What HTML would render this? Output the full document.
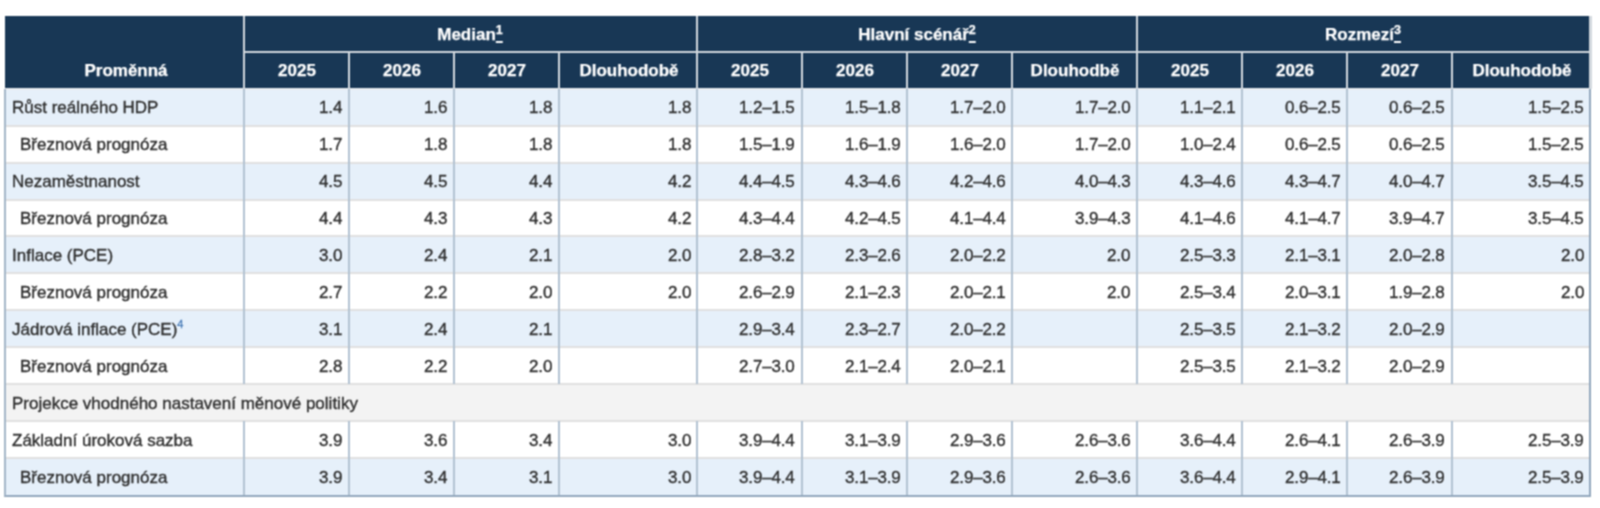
<!DOCTYPE html>
<html><head><meta charset="utf-8"><style>
html,body{margin:0;padding:0;background:#fff;width:1600px;height:508px;overflow:hidden;position:relative}
div{position:absolute}
.t{font-family:"Liberation Sans",sans-serif;font-size:17px;line-height:20px;white-space:nowrap;margin-top:-15.5px;-webkit-text-stroke:0.35px currentColor;will-change:transform}
.h{color:#fff;font-weight:bold;-webkit-text-stroke:0.25px currentColor}
.b{color:#2e2e2e}
.num{letter-spacing:-0.15px}
.sl{color:#fff;text-decoration:underline;text-decoration-thickness:1.7px;text-underline-offset:0.6px}
sup{font-size:12.5px;vertical-align:5.6px;line-height:0}
sup.fn{font-size:11px;color:#4277b5;vertical-align:7.3px;-webkit-text-stroke:0.3px currentColor}
</style></head><body><svg width="0" height="0" style="position:absolute"><filter id="bl" x="0" y="0" width="100%" height="100%" color-interpolation-filters="sRGB"><feConvolveMatrix order="3" kernelMatrix="1 2 1 2 4 2 1 2 1" divisor="16" edgeMode="duplicate"/></filter></svg><div id="wrap" style="left:0;top:0;width:1600px;height:508px;background:#fff;filter:url(#bl)">
<div style="left:5.20px;top:16.00px;width:1585.10px;height:72.60px;background:#183755;"></div>
<div style="left:5.20px;top:88.60px;width:1585.10px;height:36.97px;background:#e6f0fa;"></div>
<div style="left:5.20px;top:125.57px;width:1585.10px;height:36.97px;background:#fff;"></div>
<div style="left:5.20px;top:162.54px;width:1585.10px;height:36.97px;background:#e6f0fa;"></div>
<div style="left:5.20px;top:199.51px;width:1585.10px;height:36.97px;background:#fff;"></div>
<div style="left:5.20px;top:236.48px;width:1585.10px;height:36.97px;background:#e6f0fa;"></div>
<div style="left:5.20px;top:273.45px;width:1585.10px;height:36.97px;background:#fff;"></div>
<div style="left:5.20px;top:310.42px;width:1585.10px;height:36.97px;background:#e6f0fa;"></div>
<div style="left:5.20px;top:347.39px;width:1585.10px;height:36.97px;background:#fff;"></div>
<div style="left:5.20px;top:384.36px;width:1585.10px;height:36.97px;background:#f3f3f3;"></div>
<div style="left:5.20px;top:421.33px;width:1585.10px;height:36.97px;background:#fff;"></div>
<div style="left:5.20px;top:458.30px;width:1585.10px;height:36.97px;background:#e6f0fa;"></div>
<div style="left:5.20px;top:124.57px;width:1585.10px;height:2.00px;background:#e0e0e0;"></div>
<div style="left:5.20px;top:161.54px;width:1585.10px;height:2.00px;background:#e0e0e0;"></div>
<div style="left:5.20px;top:198.51px;width:1585.10px;height:2.00px;background:#e0e0e0;"></div>
<div style="left:5.20px;top:235.48px;width:1585.10px;height:2.00px;background:#e0e0e0;"></div>
<div style="left:5.20px;top:272.45px;width:1585.10px;height:2.00px;background:#e0e0e0;"></div>
<div style="left:5.20px;top:309.42px;width:1585.10px;height:2.00px;background:#e0e0e0;"></div>
<div style="left:5.20px;top:346.39px;width:1585.10px;height:2.00px;background:#e0e0e0;"></div>
<div style="left:5.20px;top:383.36px;width:1585.10px;height:2.00px;background:#e0e0e0;"></div>
<div style="left:5.20px;top:420.33px;width:1585.10px;height:2.00px;background:#e0e0e0;"></div>
<div style="left:5.20px;top:457.30px;width:1585.10px;height:2.00px;background:#e0e0e0;"></div>
<div style="left:5.20px;top:88.20px;width:1585.10px;height:1.60px;background:#e8ecf0;"></div>
<div style="left:4.20px;top:495.00px;width:1587.10px;height:2.00px;background:#92a7bc;"></div>
<div style="left:244.40px;top:51.00px;width:1345.90px;height:2.00px;background:#d2d8de;"></div>
<div style="left:243.40px;top:16.00px;width:2.00px;height:72.60px;background:#d2d8de;"></div>
<div style="left:348.10px;top:52.00px;width:2.00px;height:36.60px;background:#d2d8de;"></div>
<div style="left:453.00px;top:52.00px;width:2.00px;height:36.60px;background:#d2d8de;"></div>
<div style="left:558.00px;top:52.00px;width:2.00px;height:36.60px;background:#d2d8de;"></div>
<div style="left:696.40px;top:16.00px;width:2.00px;height:72.60px;background:#d2d8de;"></div>
<div style="left:800.50px;top:52.00px;width:2.00px;height:36.60px;background:#d2d8de;"></div>
<div style="left:905.90px;top:52.00px;width:2.00px;height:36.60px;background:#d2d8de;"></div>
<div style="left:1010.90px;top:52.00px;width:2.00px;height:36.60px;background:#d2d8de;"></div>
<div style="left:1136.10px;top:16.00px;width:2.00px;height:72.60px;background:#d2d8de;"></div>
<div style="left:1240.90px;top:52.00px;width:2.00px;height:36.60px;background:#d2d8de;"></div>
<div style="left:1346.25px;top:52.00px;width:2.00px;height:36.60px;background:#d2d8de;"></div>
<div style="left:1450.50px;top:52.00px;width:2.00px;height:36.60px;background:#d2d8de;"></div>
<div style="left:243.40px;top:88.60px;width:2.00px;height:36.97px;background:#b2c2d2;"></div>
<div style="left:243.40px;top:125.57px;width:2.00px;height:36.97px;background:#b2c2d2;"></div>
<div style="left:243.40px;top:162.54px;width:2.00px;height:36.97px;background:#b2c2d2;"></div>
<div style="left:243.40px;top:199.51px;width:2.00px;height:36.97px;background:#b2c2d2;"></div>
<div style="left:243.40px;top:236.48px;width:2.00px;height:36.97px;background:#b2c2d2;"></div>
<div style="left:243.40px;top:273.45px;width:2.00px;height:36.97px;background:#b2c2d2;"></div>
<div style="left:243.40px;top:310.42px;width:2.00px;height:36.97px;background:#b2c2d2;"></div>
<div style="left:243.40px;top:347.39px;width:2.00px;height:36.97px;background:#b2c2d2;"></div>
<div style="left:243.40px;top:421.33px;width:2.00px;height:36.97px;background:#b2c2d2;"></div>
<div style="left:243.40px;top:458.30px;width:2.00px;height:36.97px;background:#b2c2d2;"></div>
<div style="left:348.10px;top:88.60px;width:2.00px;height:36.97px;background:#b2c2d2;"></div>
<div style="left:348.10px;top:125.57px;width:2.00px;height:36.97px;background:#b2c2d2;"></div>
<div style="left:348.10px;top:162.54px;width:2.00px;height:36.97px;background:#b2c2d2;"></div>
<div style="left:348.10px;top:199.51px;width:2.00px;height:36.97px;background:#b2c2d2;"></div>
<div style="left:348.10px;top:236.48px;width:2.00px;height:36.97px;background:#b2c2d2;"></div>
<div style="left:348.10px;top:273.45px;width:2.00px;height:36.97px;background:#b2c2d2;"></div>
<div style="left:348.10px;top:310.42px;width:2.00px;height:36.97px;background:#b2c2d2;"></div>
<div style="left:348.10px;top:347.39px;width:2.00px;height:36.97px;background:#b2c2d2;"></div>
<div style="left:348.10px;top:421.33px;width:2.00px;height:36.97px;background:#b2c2d2;"></div>
<div style="left:348.10px;top:458.30px;width:2.00px;height:36.97px;background:#b2c2d2;"></div>
<div style="left:453.00px;top:88.60px;width:2.00px;height:36.97px;background:#b2c2d2;"></div>
<div style="left:453.00px;top:125.57px;width:2.00px;height:36.97px;background:#b2c2d2;"></div>
<div style="left:453.00px;top:162.54px;width:2.00px;height:36.97px;background:#b2c2d2;"></div>
<div style="left:453.00px;top:199.51px;width:2.00px;height:36.97px;background:#b2c2d2;"></div>
<div style="left:453.00px;top:236.48px;width:2.00px;height:36.97px;background:#b2c2d2;"></div>
<div style="left:453.00px;top:273.45px;width:2.00px;height:36.97px;background:#b2c2d2;"></div>
<div style="left:453.00px;top:310.42px;width:2.00px;height:36.97px;background:#b2c2d2;"></div>
<div style="left:453.00px;top:347.39px;width:2.00px;height:36.97px;background:#b2c2d2;"></div>
<div style="left:453.00px;top:421.33px;width:2.00px;height:36.97px;background:#b2c2d2;"></div>
<div style="left:453.00px;top:458.30px;width:2.00px;height:36.97px;background:#b2c2d2;"></div>
<div style="left:558.00px;top:88.60px;width:2.00px;height:36.97px;background:#b2c2d2;"></div>
<div style="left:558.00px;top:125.57px;width:2.00px;height:36.97px;background:#b2c2d2;"></div>
<div style="left:558.00px;top:162.54px;width:2.00px;height:36.97px;background:#b2c2d2;"></div>
<div style="left:558.00px;top:199.51px;width:2.00px;height:36.97px;background:#b2c2d2;"></div>
<div style="left:558.00px;top:236.48px;width:2.00px;height:36.97px;background:#b2c2d2;"></div>
<div style="left:558.00px;top:273.45px;width:2.00px;height:36.97px;background:#b2c2d2;"></div>
<div style="left:558.00px;top:310.42px;width:2.00px;height:36.97px;background:#b2c2d2;"></div>
<div style="left:558.00px;top:347.39px;width:2.00px;height:36.97px;background:#b2c2d2;"></div>
<div style="left:558.00px;top:421.33px;width:2.00px;height:36.97px;background:#b2c2d2;"></div>
<div style="left:558.00px;top:458.30px;width:2.00px;height:36.97px;background:#b2c2d2;"></div>
<div style="left:696.40px;top:88.60px;width:2.00px;height:36.97px;background:#b2c2d2;"></div>
<div style="left:696.40px;top:125.57px;width:2.00px;height:36.97px;background:#b2c2d2;"></div>
<div style="left:696.40px;top:162.54px;width:2.00px;height:36.97px;background:#b2c2d2;"></div>
<div style="left:696.40px;top:199.51px;width:2.00px;height:36.97px;background:#b2c2d2;"></div>
<div style="left:696.40px;top:236.48px;width:2.00px;height:36.97px;background:#b2c2d2;"></div>
<div style="left:696.40px;top:273.45px;width:2.00px;height:36.97px;background:#b2c2d2;"></div>
<div style="left:696.40px;top:310.42px;width:2.00px;height:36.97px;background:#b2c2d2;"></div>
<div style="left:696.40px;top:347.39px;width:2.00px;height:36.97px;background:#b2c2d2;"></div>
<div style="left:696.40px;top:421.33px;width:2.00px;height:36.97px;background:#b2c2d2;"></div>
<div style="left:696.40px;top:458.30px;width:2.00px;height:36.97px;background:#b2c2d2;"></div>
<div style="left:800.50px;top:88.60px;width:2.00px;height:36.97px;background:#b2c2d2;"></div>
<div style="left:800.50px;top:125.57px;width:2.00px;height:36.97px;background:#b2c2d2;"></div>
<div style="left:800.50px;top:162.54px;width:2.00px;height:36.97px;background:#b2c2d2;"></div>
<div style="left:800.50px;top:199.51px;width:2.00px;height:36.97px;background:#b2c2d2;"></div>
<div style="left:800.50px;top:236.48px;width:2.00px;height:36.97px;background:#b2c2d2;"></div>
<div style="left:800.50px;top:273.45px;width:2.00px;height:36.97px;background:#b2c2d2;"></div>
<div style="left:800.50px;top:310.42px;width:2.00px;height:36.97px;background:#b2c2d2;"></div>
<div style="left:800.50px;top:347.39px;width:2.00px;height:36.97px;background:#b2c2d2;"></div>
<div style="left:800.50px;top:421.33px;width:2.00px;height:36.97px;background:#b2c2d2;"></div>
<div style="left:800.50px;top:458.30px;width:2.00px;height:36.97px;background:#b2c2d2;"></div>
<div style="left:905.90px;top:88.60px;width:2.00px;height:36.97px;background:#b2c2d2;"></div>
<div style="left:905.90px;top:125.57px;width:2.00px;height:36.97px;background:#b2c2d2;"></div>
<div style="left:905.90px;top:162.54px;width:2.00px;height:36.97px;background:#b2c2d2;"></div>
<div style="left:905.90px;top:199.51px;width:2.00px;height:36.97px;background:#b2c2d2;"></div>
<div style="left:905.90px;top:236.48px;width:2.00px;height:36.97px;background:#b2c2d2;"></div>
<div style="left:905.90px;top:273.45px;width:2.00px;height:36.97px;background:#b2c2d2;"></div>
<div style="left:905.90px;top:310.42px;width:2.00px;height:36.97px;background:#b2c2d2;"></div>
<div style="left:905.90px;top:347.39px;width:2.00px;height:36.97px;background:#b2c2d2;"></div>
<div style="left:905.90px;top:421.33px;width:2.00px;height:36.97px;background:#b2c2d2;"></div>
<div style="left:905.90px;top:458.30px;width:2.00px;height:36.97px;background:#b2c2d2;"></div>
<div style="left:1010.90px;top:88.60px;width:2.00px;height:36.97px;background:#b2c2d2;"></div>
<div style="left:1010.90px;top:125.57px;width:2.00px;height:36.97px;background:#b2c2d2;"></div>
<div style="left:1010.90px;top:162.54px;width:2.00px;height:36.97px;background:#b2c2d2;"></div>
<div style="left:1010.90px;top:199.51px;width:2.00px;height:36.97px;background:#b2c2d2;"></div>
<div style="left:1010.90px;top:236.48px;width:2.00px;height:36.97px;background:#b2c2d2;"></div>
<div style="left:1010.90px;top:273.45px;width:2.00px;height:36.97px;background:#b2c2d2;"></div>
<div style="left:1010.90px;top:310.42px;width:2.00px;height:36.97px;background:#b2c2d2;"></div>
<div style="left:1010.90px;top:347.39px;width:2.00px;height:36.97px;background:#b2c2d2;"></div>
<div style="left:1010.90px;top:421.33px;width:2.00px;height:36.97px;background:#b2c2d2;"></div>
<div style="left:1010.90px;top:458.30px;width:2.00px;height:36.97px;background:#b2c2d2;"></div>
<div style="left:1136.10px;top:88.60px;width:2.00px;height:36.97px;background:#b2c2d2;"></div>
<div style="left:1136.10px;top:125.57px;width:2.00px;height:36.97px;background:#b2c2d2;"></div>
<div style="left:1136.10px;top:162.54px;width:2.00px;height:36.97px;background:#b2c2d2;"></div>
<div style="left:1136.10px;top:199.51px;width:2.00px;height:36.97px;background:#b2c2d2;"></div>
<div style="left:1136.10px;top:236.48px;width:2.00px;height:36.97px;background:#b2c2d2;"></div>
<div style="left:1136.10px;top:273.45px;width:2.00px;height:36.97px;background:#b2c2d2;"></div>
<div style="left:1136.10px;top:310.42px;width:2.00px;height:36.97px;background:#b2c2d2;"></div>
<div style="left:1136.10px;top:347.39px;width:2.00px;height:36.97px;background:#b2c2d2;"></div>
<div style="left:1136.10px;top:421.33px;width:2.00px;height:36.97px;background:#b2c2d2;"></div>
<div style="left:1136.10px;top:458.30px;width:2.00px;height:36.97px;background:#b2c2d2;"></div>
<div style="left:1240.90px;top:88.60px;width:2.00px;height:36.97px;background:#b2c2d2;"></div>
<div style="left:1240.90px;top:125.57px;width:2.00px;height:36.97px;background:#b2c2d2;"></div>
<div style="left:1240.90px;top:162.54px;width:2.00px;height:36.97px;background:#b2c2d2;"></div>
<div style="left:1240.90px;top:199.51px;width:2.00px;height:36.97px;background:#b2c2d2;"></div>
<div style="left:1240.90px;top:236.48px;width:2.00px;height:36.97px;background:#b2c2d2;"></div>
<div style="left:1240.90px;top:273.45px;width:2.00px;height:36.97px;background:#b2c2d2;"></div>
<div style="left:1240.90px;top:310.42px;width:2.00px;height:36.97px;background:#b2c2d2;"></div>
<div style="left:1240.90px;top:347.39px;width:2.00px;height:36.97px;background:#b2c2d2;"></div>
<div style="left:1240.90px;top:421.33px;width:2.00px;height:36.97px;background:#b2c2d2;"></div>
<div style="left:1240.90px;top:458.30px;width:2.00px;height:36.97px;background:#b2c2d2;"></div>
<div style="left:1346.25px;top:88.60px;width:2.00px;height:36.97px;background:#b2c2d2;"></div>
<div style="left:1346.25px;top:125.57px;width:2.00px;height:36.97px;background:#b2c2d2;"></div>
<div style="left:1346.25px;top:162.54px;width:2.00px;height:36.97px;background:#b2c2d2;"></div>
<div style="left:1346.25px;top:199.51px;width:2.00px;height:36.97px;background:#b2c2d2;"></div>
<div style="left:1346.25px;top:236.48px;width:2.00px;height:36.97px;background:#b2c2d2;"></div>
<div style="left:1346.25px;top:273.45px;width:2.00px;height:36.97px;background:#b2c2d2;"></div>
<div style="left:1346.25px;top:310.42px;width:2.00px;height:36.97px;background:#b2c2d2;"></div>
<div style="left:1346.25px;top:347.39px;width:2.00px;height:36.97px;background:#b2c2d2;"></div>
<div style="left:1346.25px;top:421.33px;width:2.00px;height:36.97px;background:#b2c2d2;"></div>
<div style="left:1346.25px;top:458.30px;width:2.00px;height:36.97px;background:#b2c2d2;"></div>
<div style="left:1450.50px;top:88.60px;width:2.00px;height:36.97px;background:#b2c2d2;"></div>
<div style="left:1450.50px;top:125.57px;width:2.00px;height:36.97px;background:#b2c2d2;"></div>
<div style="left:1450.50px;top:162.54px;width:2.00px;height:36.97px;background:#b2c2d2;"></div>
<div style="left:1450.50px;top:199.51px;width:2.00px;height:36.97px;background:#b2c2d2;"></div>
<div style="left:1450.50px;top:236.48px;width:2.00px;height:36.97px;background:#b2c2d2;"></div>
<div style="left:1450.50px;top:273.45px;width:2.00px;height:36.97px;background:#b2c2d2;"></div>
<div style="left:1450.50px;top:310.42px;width:2.00px;height:36.97px;background:#b2c2d2;"></div>
<div style="left:1450.50px;top:347.39px;width:2.00px;height:36.97px;background:#b2c2d2;"></div>
<div style="left:1450.50px;top:421.33px;width:2.00px;height:36.97px;background:#b2c2d2;"></div>
<div style="left:1450.50px;top:458.30px;width:2.00px;height:36.97px;background:#b2c2d2;"></div>
<div style="left:4.20px;top:88.60px;width:2.00px;height:407.40px;background:#a3b5c7;"></div>
<div style="left:1589.30px;top:88.60px;width:2.00px;height:407.40px;background:#92a7bc;"></div>
<div style="left:1588.80px;top:16.00px;width:3.00px;height:72.60px;background:#d2d8de;"></div>
<div class="t h" style="left:-174.20px;width:600px;text-align:center;top:76.90px">Proměnná</div>
<div class="t h" style="left:170.40px;width:600px;text-align:center;top:40.40px">Median<a class="sl"><sup>1</sup></a></div>
<div class="t h" style="left:-2.65px;width:600px;text-align:center;top:76.90px">2025</div>
<div class="t h" style="left:102.15px;width:600px;text-align:center;top:76.90px">2026</div>
<div class="t h" style="left:207.10px;width:600px;text-align:center;top:76.90px">2027</div>
<div class="t h" style="left:328.80px;width:600px;text-align:center;top:76.90px">Dlouhodobě</div>
<div class="t h" style="left:616.75px;width:600px;text-align:center;top:40.40px">Hlavní scénář<a class="sl"><sup>2</sup></a></div>
<div class="t h" style="left:450.05px;width:600px;text-align:center;top:76.90px">2025</div>
<div class="t h" style="left:554.80px;width:600px;text-align:center;top:76.90px">2026</div>
<div class="t h" style="left:660.00px;width:600px;text-align:center;top:76.90px">2027</div>
<div class="t h" style="left:775.10px;width:600px;text-align:center;top:76.90px">Dlouhodbě</div>
<div class="t h" style="left:1063.20px;width:600px;text-align:center;top:40.40px">Rozmezí<a class="sl"><sup>3</sup></a></div>
<div class="t h" style="left:890.10px;width:600px;text-align:center;top:76.90px">2025</div>
<div class="t h" style="left:995.17px;width:600px;text-align:center;top:76.90px">2026</div>
<div class="t h" style="left:1099.97px;width:600px;text-align:center;top:76.90px">2027</div>
<div class="t h" style="left:1221.50px;width:600px;text-align:center;top:76.90px">Dlouhodobě</div>
<div class="t b" style="left:12.10px;top:113.30px">Růst reálného HDP</div>
<div class="t b num" style="right:1257.50px;top:113.30px">1.4</div>
<div class="t b num" style="right:1152.60px;top:113.30px">1.6</div>
<div class="t b num" style="right:1047.60px;top:113.30px">1.8</div>
<div class="t b num" style="right:909.20px;top:113.30px">1.8</div>
<div class="t b num" style="right:805.10px;top:113.30px">1.2–1.5</div>
<div class="t b num" style="right:699.70px;top:113.30px">1.5–1.8</div>
<div class="t b num" style="right:594.70px;top:113.30px">1.7–2.0</div>
<div class="t b num" style="right:469.50px;top:113.30px">1.7–2.0</div>
<div class="t b num" style="right:364.70px;top:113.30px">1.1–2.1</div>
<div class="t b num" style="right:259.35px;top:113.30px">0.6–2.5</div>
<div class="t b num" style="right:155.10px;top:113.30px">0.6–2.5</div>
<div class="t b num" style="right:16.30px;top:113.30px">1.5–2.5</div>
<div class="t b" style="left:20.10px;top:150.27px">Březnová prognóza</div>
<div class="t b num" style="right:1257.50px;top:150.27px">1.7</div>
<div class="t b num" style="right:1152.60px;top:150.27px">1.8</div>
<div class="t b num" style="right:1047.60px;top:150.27px">1.8</div>
<div class="t b num" style="right:909.20px;top:150.27px">1.8</div>
<div class="t b num" style="right:805.10px;top:150.27px">1.5–1.9</div>
<div class="t b num" style="right:699.70px;top:150.27px">1.6–1.9</div>
<div class="t b num" style="right:594.70px;top:150.27px">1.6–2.0</div>
<div class="t b num" style="right:469.50px;top:150.27px">1.7–2.0</div>
<div class="t b num" style="right:364.70px;top:150.27px">1.0–2.4</div>
<div class="t b num" style="right:259.35px;top:150.27px">0.6–2.5</div>
<div class="t b num" style="right:155.10px;top:150.27px">0.6–2.5</div>
<div class="t b num" style="right:16.30px;top:150.27px">1.5–2.5</div>
<div class="t b" style="left:12.10px;top:187.24px">Nezaměstnanost</div>
<div class="t b num" style="right:1257.50px;top:187.24px">4.5</div>
<div class="t b num" style="right:1152.60px;top:187.24px">4.5</div>
<div class="t b num" style="right:1047.60px;top:187.24px">4.4</div>
<div class="t b num" style="right:909.20px;top:187.24px">4.2</div>
<div class="t b num" style="right:805.10px;top:187.24px">4.4–4.5</div>
<div class="t b num" style="right:699.70px;top:187.24px">4.3–4.6</div>
<div class="t b num" style="right:594.70px;top:187.24px">4.2–4.6</div>
<div class="t b num" style="right:469.50px;top:187.24px">4.0–4.3</div>
<div class="t b num" style="right:364.70px;top:187.24px">4.3–4.6</div>
<div class="t b num" style="right:259.35px;top:187.24px">4.3–4.7</div>
<div class="t b num" style="right:155.10px;top:187.24px">4.0–4.7</div>
<div class="t b num" style="right:16.30px;top:187.24px">3.5–4.5</div>
<div class="t b" style="left:20.10px;top:224.21px">Březnová prognóza</div>
<div class="t b num" style="right:1257.50px;top:224.21px">4.4</div>
<div class="t b num" style="right:1152.60px;top:224.21px">4.3</div>
<div class="t b num" style="right:1047.60px;top:224.21px">4.3</div>
<div class="t b num" style="right:909.20px;top:224.21px">4.2</div>
<div class="t b num" style="right:805.10px;top:224.21px">4.3–4.4</div>
<div class="t b num" style="right:699.70px;top:224.21px">4.2–4.5</div>
<div class="t b num" style="right:594.70px;top:224.21px">4.1–4.4</div>
<div class="t b num" style="right:469.50px;top:224.21px">3.9–4.3</div>
<div class="t b num" style="right:364.70px;top:224.21px">4.1–4.6</div>
<div class="t b num" style="right:259.35px;top:224.21px">4.1–4.7</div>
<div class="t b num" style="right:155.10px;top:224.21px">3.9–4.7</div>
<div class="t b num" style="right:16.30px;top:224.21px">3.5–4.5</div>
<div class="t b" style="left:12.10px;top:261.18px">Inflace (PCE)</div>
<div class="t b num" style="right:1257.50px;top:261.18px">3.0</div>
<div class="t b num" style="right:1152.60px;top:261.18px">2.4</div>
<div class="t b num" style="right:1047.60px;top:261.18px">2.1</div>
<div class="t b num" style="right:909.20px;top:261.18px">2.0</div>
<div class="t b num" style="right:805.10px;top:261.18px">2.8–3.2</div>
<div class="t b num" style="right:699.70px;top:261.18px">2.3–2.6</div>
<div class="t b num" style="right:594.70px;top:261.18px">2.0–2.2</div>
<div class="t b num" style="right:469.50px;top:261.18px">2.0</div>
<div class="t b num" style="right:364.70px;top:261.18px">2.5–3.3</div>
<div class="t b num" style="right:259.35px;top:261.18px">2.1–3.1</div>
<div class="t b num" style="right:155.10px;top:261.18px">2.0–2.8</div>
<div class="t b num" style="right:16.30px;top:261.18px">2.0</div>
<div class="t b" style="left:20.10px;top:298.15px">Březnová prognóza</div>
<div class="t b num" style="right:1257.50px;top:298.15px">2.7</div>
<div class="t b num" style="right:1152.60px;top:298.15px">2.2</div>
<div class="t b num" style="right:1047.60px;top:298.15px">2.0</div>
<div class="t b num" style="right:909.20px;top:298.15px">2.0</div>
<div class="t b num" style="right:805.10px;top:298.15px">2.6–2.9</div>
<div class="t b num" style="right:699.70px;top:298.15px">2.1–2.3</div>
<div class="t b num" style="right:594.70px;top:298.15px">2.0–2.1</div>
<div class="t b num" style="right:469.50px;top:298.15px">2.0</div>
<div class="t b num" style="right:364.70px;top:298.15px">2.5–3.4</div>
<div class="t b num" style="right:259.35px;top:298.15px">2.0–3.1</div>
<div class="t b num" style="right:155.10px;top:298.15px">1.9–2.8</div>
<div class="t b num" style="right:16.30px;top:298.15px">2.0</div>
<div class="t b" style="left:12.10px;top:335.12px">Jádrová inflace (PCE)<sup class='fn'>4</sup></div>
<div class="t b num" style="right:1257.50px;top:335.12px">3.1</div>
<div class="t b num" style="right:1152.60px;top:335.12px">2.4</div>
<div class="t b num" style="right:1047.60px;top:335.12px">2.1</div>
<div class="t b num" style="right:805.10px;top:335.12px">2.9–3.4</div>
<div class="t b num" style="right:699.70px;top:335.12px">2.3–2.7</div>
<div class="t b num" style="right:594.70px;top:335.12px">2.0–2.2</div>
<div class="t b num" style="right:364.70px;top:335.12px">2.5–3.5</div>
<div class="t b num" style="right:259.35px;top:335.12px">2.1–3.2</div>
<div class="t b num" style="right:155.10px;top:335.12px">2.0–2.9</div>
<div class="t b" style="left:20.10px;top:372.09px">Březnová prognóza</div>
<div class="t b num" style="right:1257.50px;top:372.09px">2.8</div>
<div class="t b num" style="right:1152.60px;top:372.09px">2.2</div>
<div class="t b num" style="right:1047.60px;top:372.09px">2.0</div>
<div class="t b num" style="right:805.10px;top:372.09px">2.7–3.0</div>
<div class="t b num" style="right:699.70px;top:372.09px">2.1–2.4</div>
<div class="t b num" style="right:594.70px;top:372.09px">2.0–2.1</div>
<div class="t b num" style="right:364.70px;top:372.09px">2.5–3.5</div>
<div class="t b num" style="right:259.35px;top:372.09px">2.1–3.2</div>
<div class="t b num" style="right:155.10px;top:372.09px">2.0–2.9</div>
<div class="t b" style="left:12.10px;top:409.06px">Projekce vhodného nastavení měnové politiky</div>
<div class="t b" style="left:12.10px;top:446.03px">Základní úroková sazba</div>
<div class="t b num" style="right:1257.50px;top:446.03px">3.9</div>
<div class="t b num" style="right:1152.60px;top:446.03px">3.6</div>
<div class="t b num" style="right:1047.60px;top:446.03px">3.4</div>
<div class="t b num" style="right:909.20px;top:446.03px">3.0</div>
<div class="t b num" style="right:805.10px;top:446.03px">3.9–4.4</div>
<div class="t b num" style="right:699.70px;top:446.03px">3.1–3.9</div>
<div class="t b num" style="right:594.70px;top:446.03px">2.9–3.6</div>
<div class="t b num" style="right:469.50px;top:446.03px">2.6–3.6</div>
<div class="t b num" style="right:364.70px;top:446.03px">3.6–4.4</div>
<div class="t b num" style="right:259.35px;top:446.03px">2.6–4.1</div>
<div class="t b num" style="right:155.10px;top:446.03px">2.6–3.9</div>
<div class="t b num" style="right:16.30px;top:446.03px">2.5–3.9</div>
<div class="t b" style="left:20.10px;top:483.00px">Březnová prognóza</div>
<div class="t b num" style="right:1257.50px;top:483.00px">3.9</div>
<div class="t b num" style="right:1152.60px;top:483.00px">3.4</div>
<div class="t b num" style="right:1047.60px;top:483.00px">3.1</div>
<div class="t b num" style="right:909.20px;top:483.00px">3.0</div>
<div class="t b num" style="right:805.10px;top:483.00px">3.9–4.4</div>
<div class="t b num" style="right:699.70px;top:483.00px">3.1–3.9</div>
<div class="t b num" style="right:594.70px;top:483.00px">2.9–3.6</div>
<div class="t b num" style="right:469.50px;top:483.00px">2.6–3.6</div>
<div class="t b num" style="right:364.70px;top:483.00px">3.6–4.4</div>
<div class="t b num" style="right:259.35px;top:483.00px">2.9–4.1</div>
<div class="t b num" style="right:155.10px;top:483.00px">2.6–3.9</div>
<div class="t b num" style="right:16.30px;top:483.00px">2.5–3.9</div>
</div></body></html>
